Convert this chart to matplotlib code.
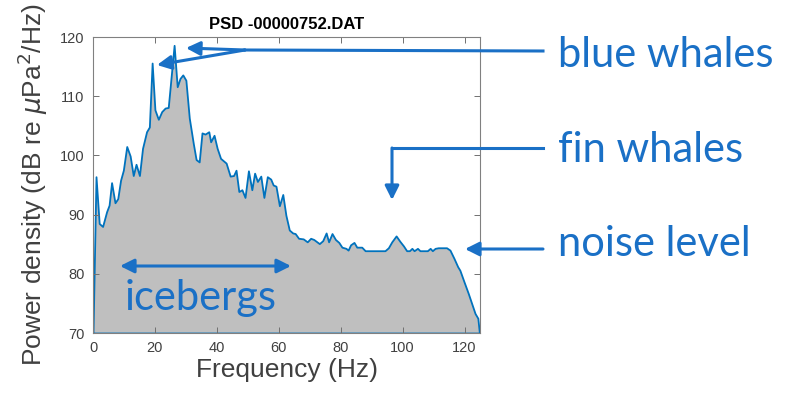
import matplotlib
matplotlib.use("Agg")
import matplotlib.pyplot as plt
from matplotlib.lines import Line2D

# PSD of 00000752.DAT
freq = [0, 0.97, 2.0, 3.1, 4.4, 5.2, 6.0, 7.1, 8.0, 8.9, 9.8, 10.9, 12.0, 13.0,
        13.9, 15.0, 16.0, 17.3, 18.2, 19.1, 20.0, 21.1, 22.2, 23.3, 24.3, 26.2,
        27.2, 28.1, 29.0, 30.0, 31.1, 32.4, 33.3, 34.3, 35.2, 36.2, 37.4, 38.0,
        39.1, 40.1, 41.2, 43.0, 44.3, 45.4, 46.2, 47.1, 48.1, 49.1, 50.2, 51.3,
        52.2, 53.1, 54.2, 55.2, 56.3, 57.4, 58.2, 59.1, 60.2, 61.3, 62.3, 63.4,
        64.5, 65.3, 66.4, 67.9, 69.2, 70.3, 71.3, 73.1, 74.2, 75.3, 76.1, 77.2,
        78.3, 79.4, 80.4, 81.7, 82.4, 83.2, 84.3, 85.2, 86.8, 87.9, 89.5, 94.3,
        95.4, 96.5, 97.9, 99.1, 100.3, 101.3, 102.2, 103.0, 103.7, 104.8, 105.6,
        108.0, 108.9, 109.6, 110.5, 111.5, 114.2, 115.3, 116.6, 117.8, 118.5,
        119.8, 121.2, 122.3, 123.4, 124.3, 124.8]
psd_db = [70, 96.4, 88.5, 88.0, 90.5, 91.6, 95.4, 92.0, 92.7, 95.8, 97.5, 101.5,
          99.9, 96.6, 98.5, 96.6, 101.2, 104.0, 104.8, 115.6, 107.7, 106.1, 107.4,
          108.0, 108.1, 118.6, 111.6, 113.0, 113.6, 112.7, 106.3, 102.0, 99.3,
          98.9, 103.8, 103.6, 104.0, 102.3, 103.4, 101.2, 99.5, 98.7, 96.5, 96.6,
          97.5, 93.9, 94.2, 92.9, 97.4, 94.2, 97.0, 95.6, 96.5, 92.9, 96.4, 96.0,
          95.0, 94.8, 91.5, 93.4, 89.9, 87.4, 86.9, 86.8, 86.0, 85.9, 85.4, 86.0,
          85.8, 85.1, 85.6, 86.9, 85.4, 86.8, 85.8, 85.3, 84.5, 84.3, 84.0, 84.9,
          85.3, 84.5, 84.5, 83.9, 83.9, 83.9, 84.4, 85.4, 86.4, 85.5, 84.7, 83.9,
          83.9, 84.3, 83.9, 84.3, 83.9, 83.9, 84.3, 83.9, 84.3, 84.4, 84.4, 84.0,
          82.6, 81.2, 80.6, 78.7, 76.7, 75.0, 73.3, 72.5, 70]

x_ticks = [0, 20, 40, 60, 80, 100, 120]
y_ticks = [70, 80, 90, 100, 110, 120]

W, H = 793, 401
line_blue = "#0072BD"
note_blue = "#1a70c6"
grey = "#404040"

plt.rcParams["font.family"] = ["Liberation Sans", "DejaVu Sans"]

fig = plt.figure(figsize=(W / 100, H / 100), dpi=100)
ax = fig.add_axes([93 / W, 1 - 333 / H, 387 / W, 296 / H])

ax.fill_between(freq, psd_db, 70, facecolor="#bfbfbf", edgecolor=line_blue,
                linewidth=1.3)
ax.set_xlim(0, 125)
ax.set_ylim(70, 120)
ax.set_xticks(x_ticks)
ax.set_yticks(y_ticks)
ax.tick_params(direction="in", top=True, right=True, length=4, width=0.7,
               colors="#707070", labelcolor=grey, labelsize=10.5, pad=6)
for s in ax.spines.values():
    s.set_color("#808080")
    s.set_linewidth(0.8)

ax.set_title("PSD -00000752.DAT", fontsize=12, fontweight="bold", pad=6)
ax.set_xlabel("Frequency (Hz)", fontsize=19, color=grey, labelpad=2)
ax.set_ylabel(r"Power density (dB re $\mu$Pa$^2$/Hz)", fontsize=19,
              color=grey, labelpad=7)


def P(x, y):
    # picture pixels (origin top left) -> figure pixels
    return (x, H - y)


def arrow(start, end, style="-|>"):
    fig.add_artist(matplotlib.patches.FancyArrowPatch(
        P(*start), P(*end), arrowstyle=style, mutation_scale=21,
        color=note_blue, linewidth=2.2, transform=None,
        shrinkA=0, shrinkB=0))


def seg(xs, ys):
    fig.add_artist(Line2D(xs, [H - y for y in ys], color=note_blue,
                          linewidth=2.2, transform=None))


# blue whales
seg([543, 245], [51, 50])
arrow((245, 50), (186, 48))
arrow((245, 50), (157, 65))
# fin whales
seg([543, 392], [148, 148])
arrow((392, 148), (392, 200))
# noise level
arrow((543, 249), (465, 249))
# icebergs
arrow((120, 266), (291, 266), "<|-|>")

kw = dict(fontsize=30, color=note_blue, family=["Lato", "DejaVu Sans"],
          va="center", ha="left", transform=None)
fig.text(*P(558, 55), "blue whales", **kw)
fig.text(*P(558, 150), "fin whales", **kw)
fig.text(*P(558, 244), "noise level", **kw)
fig.text(*P(125, 298), "icebergs", **kw)

fig.savefig("out.png", dpi=100)
